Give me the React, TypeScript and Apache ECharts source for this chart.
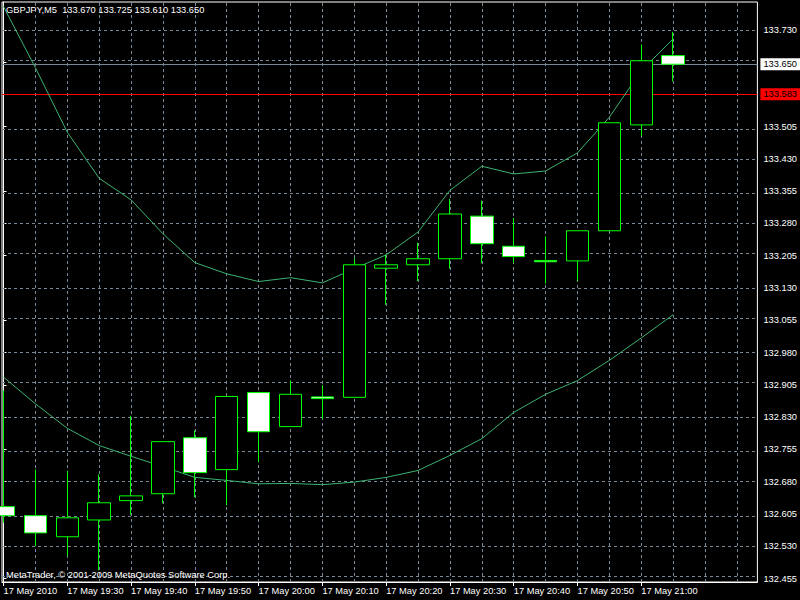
import React, { useEffect, useRef } from 'react';
import * as echarts from 'echarts';

// ---- data ----
const symbolName = 'GBPJPY,M5';
const barTimes = ['19:20', '19:25', '19:30', '19:35', '19:40', '19:45', '19:50', '19:55', '20:00', '20:05', '20:10', '20:15', '20:20', '20:25', '20:30', '20:35', '20:40', '20:45', '20:50', '20:55', '21:00', '21:05'];
const opens = [132.622, 132.601, 132.552, 132.591, 132.636, 132.652, 132.782, 132.708, 132.887, 132.808, 132.877, 132.876, 133.176, 133.184, 133.198, 133.297, 133.227, 133.194, 133.193, 133.263, 133.509, 133.670];
const closes = [132.601, 132.561, 132.596, 132.631, 132.647, 132.773, 132.701, 132.878, 132.796, 132.883, 132.873, 133.184, 133.184, 133.198, 133.302, 133.233, 133.203, 133.191, 133.263, 133.514, 133.658, 133.650];
const lows = [132.585, 132.530, 132.508, 132.474, 132.603, 132.630, 132.644, 132.625, 132.725, 132.808, 132.826, 132.876, 133.091, 133.146, 133.175, 133.188, 133.188, 133.140, 133.146, 133.263, 133.483, 133.610];
const highs = [132.892, 132.708, 132.705, 132.697, 132.833, 132.773, 132.799, 132.878, 132.887, 132.915, 132.904, 133.199, 133.207, 133.235, 133.337, 133.333, 133.293, 133.250, 133.263, 133.514, 133.696, 133.725];
const maUpper = [133.784, 133.642, 133.492, 133.385, 133.335, 133.256, 133.189, 133.163, 133.145, 133.154, 133.142, 133.175, 133.207, 133.260, 133.357, 133.413, 133.395, 133.402, 133.444, 133.527, 133.635, 133.709];
const maLower = [132.923, 132.861, 132.804, 132.764, 132.739, 132.715, 132.690, 132.683, 132.675, 132.676, 132.673, 132.679, 132.690, 132.706, 132.741, 132.780, 132.841, 132.883, 132.915, 132.962, 133.014, 133.068];
const timeLabelIdx = [0, 2, 4, 6, 8, 10, 12, 14, 16, 18, 20];
const timeLabels = ['17 May 2010', '17 May 19:30', '17 May 19:40', '17 May 19:50', '17 May 20:00', '17 May 20:10', '17 May 20:20', '17 May 20:30', '17 May 20:40', '17 May 20:50', '17 May 21:00'];
const gridSlots = [1, 2, 3, 4, 5, 6, 7, 8, 9, 10, 11, 12, 13, 14, 15, 16, 17, 18, 19, 20, 21, 22, 23];
const priceTicks = [132.455, 132.530, 132.605, 132.680, 132.755, 132.830, 132.905, 132.980, 133.055, 133.130, 133.205, 133.280, 133.355, 133.430, 133.505, 133.580, 133.655, 133.730];
const hiddenTickLabels = [133.580, 133.655];
const bidPrice = 133.650;
const hLinePrice = 133.583;
const copyrightText = 'MetaTrader, \u00A9 2001-2009 MetaQuotes Software Corp.';

const FONT = "'Liberation Sans', Arial, sans-serif";
const FS = 9.3;
const GRID_COLOR = '#778899';
const CANDLE_COLOR = '#00ff00';
const MA_COLOR = '#3CB371';

export default function App() {
  const ref = useRef<HTMLDivElement>(null);

  useEffect(() => {
    if (!ref.current) return;
    const chart = echarts.init(ref.current, undefined, { renderer: 'svg' });
    const last = opens.length - 1;
    const titleText = `${symbolName}  ${opens[last].toFixed(3)} ${highs[last].toFixed(3)} ${lows[last].toFixed(3)} ${closes[last].toFixed(3)}`;
    const labelTicks = priceTicks.filter((p) => hiddenTickLabels.indexOf(p) < 0);

    const option: any = {
      animation: false,
      backgroundColor: '#000',
      textStyle: { fontFamily: FONT, fontSize: FS },
      grid: {
        left: 2, top: 2, right: 40, bottom: 18,
        show: true, borderColor: '#fff', borderWidth: 1, backgroundColor: '#000',
      },
      xAxis: {
        type: 'value',
        min: -0.046875,
        max: 23.640625,
        axisLine: { show: true, lineStyle: { color: '#fff', width: 1 } },
        axisTick: { show: true, customValues: timeLabelIdx, length: 4, lineStyle: { color: '#fff' } },
        axisLabel: {
          customValues: timeLabelIdx,
          formatter: (v: number) => {
            const k = timeLabelIdx.indexOf(Math.round(v));
            return k >= 0 ? timeLabels[k] : '';
          },
          color: '#fff', fontSize: FS, fontFamily: FONT, align: 'left', margin: 4,
        },
        splitLine: { show: false },
      },
      yAxis: {
        type: 'value',
        position: 'right',
        min: 132.44687,
        max: 133.79458,
        axisLine: { show: true, lineStyle: { color: '#fff', width: 1 } },
        axisTick: { show: true, customValues: priceTicks, length: 3, lineStyle: { color: '#fff' } },
        axisLabel: {
          customValues: labelTicks,
          formatter: (v: number) => v.toFixed(3),
          color: '#fff', fontSize: FS, fontFamily: FONT, margin: 6,
        },
        splitLine: { show: false },
      },
      graphic: [
        {
          type: 'text', left: 6, top: 5, z: 100, zlevel: 2,
          style: { text: titleText, fill: '#fff', font: `${FS}px ${FONT}` },
        },
        {
          type: 'text', left: 6, top: 570, z: 100, zlevel: 2,
          style: { text: copyrightText, fill: '#fff', font: `${FS}px ${FONT}` },
        },
      ],
      series: [
        {
          name: 'grid',
          type: 'line',
          data: [],
          z: 1,
          silent: true,
          markLine: {
            silent: true,
            animation: false,
            z: 1,
            symbol: ['none', 'none'],
            label: { show: false },
            lineStyle: { color: GRID_COLOR, type: [3, 3], width: 1 },
            data: [
              ...gridSlots.map((i) => ({ xAxis: i })),
              ...priceTicks.map((p) => ({ yAxis: p })),
            ],
          },
        },
        {
          name: 'price lines',
          type: 'line',
          data: [],
          z: 2,
          silent: true,
          markLine: {
            silent: true,
            animation: false,
            z: 2,
            symbol: ['none', 'none'],
            data: [
              {
                yAxis: bidPrice,
                lineStyle: { color: GRID_COLOR, type: 'solid', width: 1 },
                label: {
                  show: true, position: 'end', distance: 3,
                  formatter: () => bidPrice.toFixed(3),
                  color: '#000', backgroundColor: '#fff', padding: [2, 3, 1, 3],
                  fontSize: FS, fontFamily: FONT,
                },
              },
              {
                yAxis: hLinePrice,
                lineStyle: { color: '#ff0000', type: 'solid', width: 1 },
                label: {
                  show: true, position: 'end', distance: 3,
                  formatter: () => hLinePrice.toFixed(3),
                  color: '#000', backgroundColor: '#ff0000', padding: [2, 3, 1, 3],
                  fontSize: FS, fontFamily: FONT,
                },
              },
            ],
          },
        },
        {
          name: 'MA upper',
          type: 'line',
          data: maUpper.map((v, i) => [i, v]),
          showSymbol: false,
          symbol: 'none',
          z: 3,
          lineStyle: { color: MA_COLOR, width: 1 },
        },
        {
          name: 'MA lower',
          type: 'line',
          data: maLower.map((v, i) => [i, v]),
          showSymbol: false,
          symbol: 'none',
          z: 3,
          lineStyle: { color: MA_COLOR, width: 1 },
        },
        {
          name: symbolName,
          type: 'candlestick',
          z: 10,
          zlevel: 1,
          clip: false,
          barWidth: 23,
          encode: { x: 0, y: [1, 2, 3, 4] },
          data: barTimes.map((t, i) => [i, opens[i], closes[i], lows[i], highs[i]]),
          itemStyle: {
            color: '#000',
            color0: '#fff',
            borderColor: CANDLE_COLOR,
            borderColor0: CANDLE_COLOR,
            borderWidth: 1,
          },
        },
      ],
    };
    chart.setOption(option);
    return () => chart.dispose();
  }, []);

  return (
    <div
      ref={ref}
      style={{ position: 'fixed', left: 0, top: 0, width: 800, height: 600, background: '#000' }}
    />
  );
}
